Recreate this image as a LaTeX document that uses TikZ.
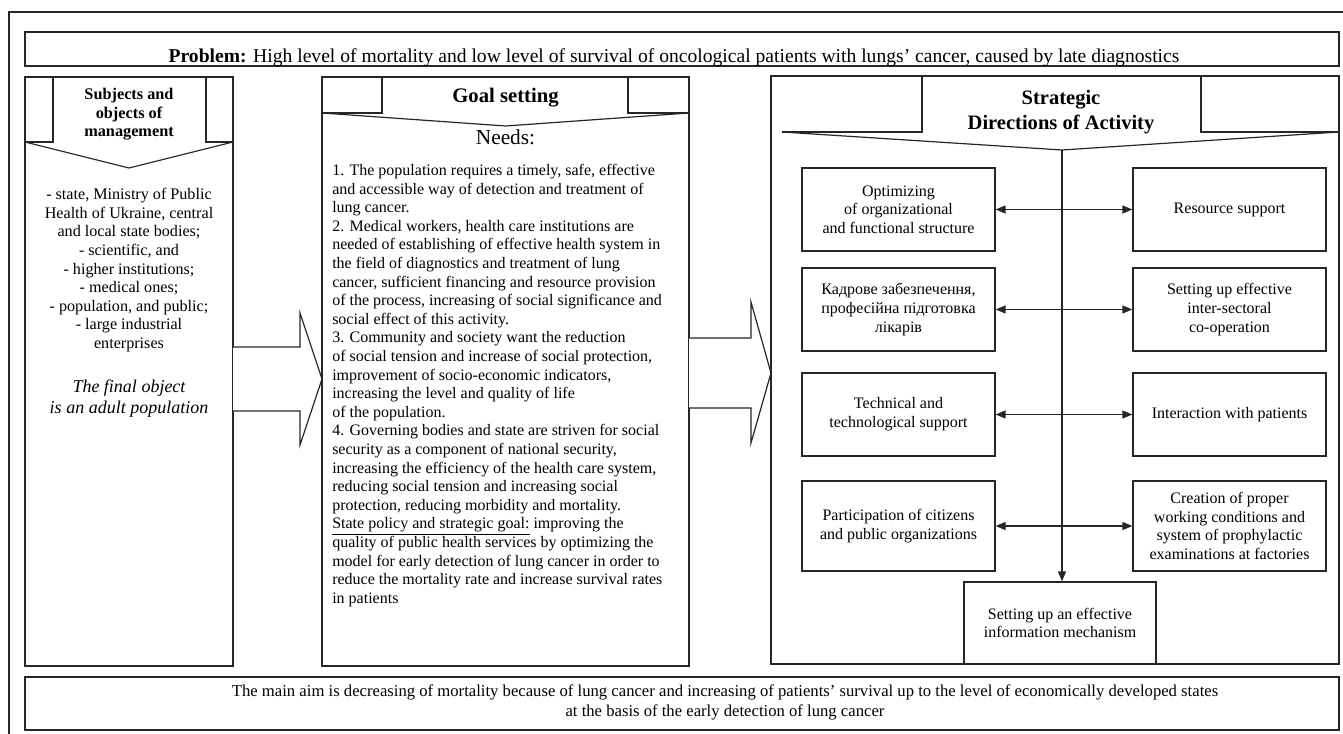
\documentclass[tikz,border=0pt]{standalone}
\usepackage{fontspec}
\setmainfont{Liberation Serif}
\usetikzlibrary{arrows.meta}
\begin{document}
\begin{tikzpicture}[x=0.75pt,y=-0.75pt,
  ln/.style={draw=black!85, line width=0.9pt},
  body/.style={font=\fontsize{12pt}{14pt}\selectfont},
  rbox/.style={ln, rectangle, minimum width=144.75pt, minimum height=62.25pt, inner sep=0pt, align=center, body},
  tipA/.style={line width=1pt, draw=black!85},
  dbl/.style={tipA, {Triangle[length=7.5pt,width=6pt]}-{Triangle[length=7.5pt,width=6pt]}},
  down/.style={tipA, -{Triangle[length=7.5pt,width=6pt]}},
  txt/.style={inner sep=0pt},
]
\useasboundingbox (0,0) rectangle (1343,734);
% outer frame
\draw[ln] (9,12) rectangle (1400,800);
% problem banner
\draw[ln] (25,32) rectangle (1339,66);
\node[txt, anchor=base, font=\fontsize{14.7pt}{17pt}\selectfont] (prob) at (674,62.5)
  {\textbf{Problem:} High level of mortality and low level of survival of oncological patients with lungs’ cancer, caused by late diagnostics};

% left panel
\draw[ln] (25,77) rectangle (233,666);
\draw[ln] (25,77) rectangle (53,142);
\draw[ln] (206,77) rectangle (233,142);
\draw[ln] (25,142) -- (129,168) -- (233,142);
\node[txt, anchor=north, align=center, font=\bfseries\fontsize{12.2pt}{13.9pt}\selectfont] (lhead) at (129,88)
  {Subjects and\\objects of\\management};
\node[txt, anchor=north, align=center, font=\fontsize{12.1pt}{13.95pt}\selectfont] (ltext) at (129,188)
  {- state, Ministry of Public\\Health of Ukraine, central\\and local state bodies;\\- scientific, and\\- higher institutions;\\- medical ones;\\- population, and public;\\- large industrial\\enterprises};
\node[txt, anchor=north, align=center, font=\itshape\fontsize{13.5pt}{15.4pt}\selectfont] (lfinal) at (129,380)
  {The final object\\is an adult population};

% block arrow 1
\draw[ln, fill=white] (233,347) -- (300,347) -- (300,313) -- (322,379) -- (300,445) -- (300,411) -- (233,411);

% middle panel
\draw[ln] (322,77) rectangle (689,666);
\draw[ln] (322,77) rectangle (382,113);
\draw[ln] (628,77) rectangle (689,113);
\draw[ln] (322,113) -- (505.5,126) -- (689,113);
\node[txt, anchor=base, font=\bfseries\fontsize{15.5pt}{18pt}\selectfont] (ghead) at (505.5,103) {Goal setting};
\node[txt, anchor=base, font=\fontsize{16pt}{18pt}\selectfont] (needs) at (505.5,145) {Needs:};
\node[txt, anchor=north west, align=left, font=\fontsize{12pt}{13.95pt}\selectfont] (mtext) at (332,164)
  {1. The population requires a timely, safe, effective\\
and accessible way of detection and treatment of\\
lung cancer.\\
2. Medical workers, health care institutions are\\
needed of establishing of effective health system in\\
the field of diagnostics and treatment of lung\\
cancer, sufficient financing and resource provision\\
of the process, increasing of social significance and\\
social effect of this activity.\\
3. Community and society want the reduction\\
of social tension and increase of social protection,\\
improvement of socio-economic indicators,\\
increasing the level and quality of life\\
of the population.\\
4. Governing bodies and state are striven for social\\
security as a component of national security,\\
increasing the efficiency of the health care system,\\
reducing social tension and increasing social\\
protection, reducing morbidity and mortality.\\
\underline{State policy and strategic goal:} improving the\\
quality of public health services by optimizing the\\
model for early detection of lung cancer in order to\\
reduce the mortality rate and increase survival rates\\
in patients};

% block arrow 2
\draw[ln, fill=white] (689,338) -- (751,338) -- (751,302) -- (771,373) -- (751,443) -- (751,408) -- (689,408);

% right panel
\draw[ln] (771,76) rectangle (1339,664);
\draw[ln] (922,76) -- (922,132) -- (782,132);
\draw[ln] (1201,76) -- (1201,132) -- (1339,132);
\draw[ln] (782,132) -- (1062,150) -- (1339,132);
\coordinate (tip) at (1062,150);
\node[txt, anchor=north, align=center, font=\bfseries\fontsize{15.4pt}{18.4pt}\selectfont] (shead) at (1061,90)
  {Strategic\\Directions of Activity};

\node[rbox] (l1) at (898.5,209.5) {Optimizing\\of organizational\\and functional structure};
\node[rbox] (r1) at (1229.5,209.5) {Resource support};
\node[rbox] (l2) at (898.5,309.5) {Кадрове забезпечення,\\професійна підготовка\\лікарів};
\node[rbox] (r2) at (1229.5,309.5) {Setting up effective\\inter-sectoral\\co-operation};
\node[rbox] (l3) at (898.5,414.5) {Technical and\\technological support};
\node[rbox] (r3) at (1229.5,414.5) {Interaction with patients};
\node[rbox, minimum height=67.5pt] (l4) at (898.5,526) {Participation of citizens\\and public organizations};
\node[rbox, minimum height=67.5pt] (r4) at (1229.5,526) {Creation of proper\\working conditions and\\system of prophylactic\\examinations at factories};
\node[rbox, minimum width=144pt, minimum height=61.5pt] (info) at (1060,623) {Setting up an effective\\information mechanism};

\draw[down] (tip) -- (tip |- info.north);
\draw[dbl] (l1) -- (r1);
\draw[dbl] (l2) -- (r2);
\draw[dbl] (l3) -- (r3);
\draw[dbl] (l4) -- (r4);

% bottom banner
\draw[ln] (25,677) rectangle (1339,730);
\node[txt, anchor=north, align=center, font=\fontsize{12.5pt}{15pt}\selectfont] (aim) at (725,684)
  {The main aim is decreasing of mortality because of lung cancer and increasing of patients’ survival up to the level of economically developed states\\at the basis of the early detection of lung cancer};
\end{tikzpicture}
\end{document}
